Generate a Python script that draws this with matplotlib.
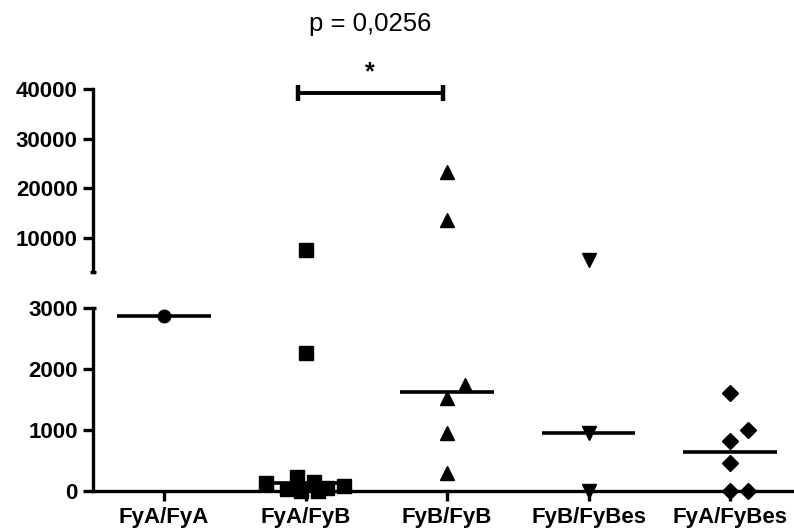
import matplotlib
matplotlib.use("Agg")
import matplotlib.pyplot as plt

plt.rcParams["font.family"] = ["Liberation Sans", "DejaVu Sans"]

# ================= DATA =================

groups = ["FyA/FyA", "FyA/FyB", "FyB/FyB", "FyB/FyBes", "FyA/FyBes"]
markers = ["o", "s", "^", "v", "D"]

fya_fya = [2870]
fya_fyb = [7600, 2260, 126, 33, 235, 0, 153, 0, 44, 87]
fyb_fyb = [23200, 13600, 1738, 1520, 946, 290]
fyb_fybes = [5600, 956, 0]
fya_fybes = [1601, 1000, 825, 454, 0, 0]
values = [fya_fya, fya_fyb, fyb_fyb, fyb_fybes, fya_fybes]

# horizontal scatter offsets (category units)
x_jitter = [
    [0.0],
    [0.0, 0.0, -0.28, -0.13, -0.06, -0.035, 0.06, 0.085, 0.155, 0.27],
    [0.0, 0.0, 0.13, 0.0, 0.0, 0.0],
    [0.0, 0.0, 0.0],
    [0.0, 0.13, 0.0, 0.0, 0.0, 0.13],
]

medians = [2870, 126, 1628, 956, 645]

p_text = "p = 0,0256"

# ================= FIGURE =================

fig = plt.figure(figsize=(7.94, 5.28), dpi=100)
W, H = 794, 528
left = 93 / W
width = 1 - left
ax_lo = fig.add_axes([left, (H - 491) / H, width, 183 / H])
ax_hi = fig.add_axes([left, (H - 272) / H, width, 183 / H])

lw = 2.4
for ax in (ax_lo, ax_hi):
    for s in ("top", "right"):
        ax.spines[s].set_visible(False)
    ax.spines["left"].set_linewidth(lw)
    ax.spines["bottom"].set_linewidth(lw)
    ax.set_xlim(-0.502, 4.452)
    ax.tick_params(axis="y", width=lw, length=7, labelsize=16, pad=4)
    ax.tick_params(axis="x", width=lw, length=7, labelsize=16, pad=4.5)
    ax.patch.set_alpha(0)

ax_lo.set_ylim(0, 3000)
ax_lo.set_yticks([0, 1000, 2000, 3000])
ax_lo.set_xticks(range(len(groups)))
ax_lo.set_xticklabels(groups, fontweight="bold")
ax_lo.set_yticklabels(["0", "1000", "2000", "3000"], fontweight="bold")

ax_hi.set_ylim(3157, 40000)
ax_hi.set_yticks([10000, 20000, 30000, 40000])
ax_hi.set_yticklabels(["10000", "20000", "30000", "40000"], fontweight="bold")
ax_hi.spines["bottom"].set_visible(False)
ax_hi.set_xticks([])

# break caps at the end of each axis segment
ax_hi.plot([-0.525, -0.48], [3157, 3157], color="black", lw=lw,
           clip_on=False, solid_capstyle="butt")
ax_lo.plot([-0.502, -0.48], [3000, 3000], color="black", lw=lw,
           clip_on=False, solid_capstyle="butt")

# ================= POINTS =================

sizes = {"o": 9, "s": 9.5, "^": 10.5, "v": 10.5, "D": 8.5}
for i, (vals, dx, m) in enumerate(zip(values, x_jitter, markers)):
    for v, d in zip(vals, dx):
        ax = ax_hi if v > 3000 else ax_lo
        ax.plot(i + d, v, marker=m, color="black", ms=sizes[m], ls="none",
                clip_on=False, zorder=5)
    ax_lo.plot([i - 0.33, i + 0.33], [medians[i], medians[i]], color="black",
               lw=2.6, solid_capstyle="butt", zorder=4)

# ================= SIGNIFICANCE =================

y_br = 39190
ax_hi.plot([0.947, 1.97], [y_br, y_br], color="black", lw=2.8, clip_on=False,
           solid_capstyle="butt")
for xb in (0.947, 1.97):
    ax_hi.plot([xb, xb], [y_br - 1610, y_br + 1610], color="black", lw=3.2,
               clip_on=False, solid_capstyle="butt")
fig.text(370 / W, 1 - 72 / H, "*", ha="center", va="center", fontsize=18,
         fontweight="bold")
fig.text(370 / W, 1 - 24 / H, p_text, ha="center", va="center", fontsize=18.5)

fig.savefig("out.png", dpi=100)
